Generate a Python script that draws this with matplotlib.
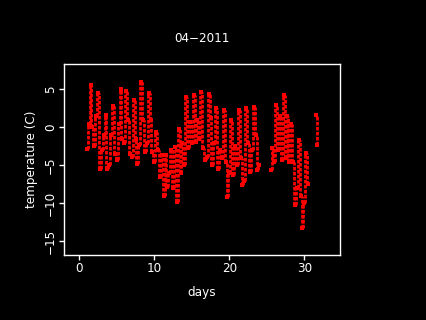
import numpy as np
import matplotlib
matplotlib.use("Agg")
import matplotlib.pyplot as plt

# temperature readings every 6 hours, starting at day 1.0 (nan = no data)
start_day = 1.0
step = 0.25
temps = [
    -2.8, 0.5, 5.6, 0.0,
    -2.5, 1.5, 4.5, -5.5,
    -3.0, -1.0, 1.6, -5.5,
    -5.0, -1.0, 2.8, -3.5,
    -4.3, 0.5, 5.0, -1.5,
    -2.0, 4.8, 1.0, -3.5,
    -3.9, 3.6, -1.5, -4.8,
    -2.3, 5.9, 1.0, -3.3,
    -2.0, 4.5, 1.0, -3.2,
    -4.5, -0.6, -3.0, -6.5,
    -3.6, -9.0, -3.6, -7.8,
    -6.0, -3.0, -8.0, -2.6,
    -9.8, -0.2, -6.0, -2.0,
    -5.0, 4.0, -2.7, 0.7,
    -2.0, 4.2, -1.9, 1.0,
    -1.5, 4.6, -2.7, -4.3,
    -3.9, 4.4, 1.2, -5.0,
    -2.0, 2.6, -5.5, -3.0,
    -4.0, 2.3, -4.6, -9.2,
    -6.0, 1.0, -6.3, -2.5,
    -5.0, 2.3, -4.0, -7.6,
    -7.0, 2.5, -2.0, -5.9,
    -3.0, 2.7, -1.0, -5.6,
    -5.0, np.nan, np.nan, np.nan,
    np.nan, np.nan, -5.6, -2.7,
    -4.6, 3.0, -3.0, 1.5,
    -4.3, 4.2, -4.0, 1.5,
    -4.6, 0.5, -4.5, -10.2,
    -8.0, -1.7, -9.0, -13.2,
    -10.0, -3.4, -7.5, np.nan,
    np.nan, np.nan, 1.6, -2.3,
]
days = start_day + step * np.arange(len(temps))

fg = 'white'
fs = 8.64

fig = plt.figure(figsize=(4.26, 3.2), dpi=100, facecolor='black')
ax = fig.add_axes([0.1502, 0.203, 0.648, 0.597], facecolor='black')

# between two readings the dense record sweeps vertically -> streak of points
t = np.array(temps)
mid = (days[:-1] + days[1:]) / 2
lo = np.fmin(t[:-1], t[1:])
hi = np.fmax(t[:-1], t[1:])
ok = ~(np.isnan(t[:-1]) | np.isnan(t[1:]))
ax.vlines(mid[ok], lo[ok], hi[ok], color='red', lw=2.0,
          linestyles=[(0, (1.3, 0.5))])
ax.plot(days, temps, color='red', ls='none', marker='s', ms=2.2, mew=0)

ax.set_xlim(-2.04, 34.76)
ax.set_ylim(-16.8, 8.33)
ax.set_xticks([0, 10, 20, 30])
ax.set_yticks([-15, -10, -5, 0, 5])

for s in ax.spines.values():
    s.set_color(fg)
    s.set_linewidth(1)
ax.tick_params(colors=fg, length=3.6, width=1, labelsize=fs, pad=1.5)
for lbl in ax.get_yticklabels():
    lbl.set_rotation(90)
    lbl.set_va('center')

ax.set_xlabel('days', color=fg, fontsize=fs, labelpad=8)
ax.set_ylabel('temperature (C)', color=fg, fontsize=fs, labelpad=4)
ax.set_title('04\u22122011', color=fg, fontsize=fs, pad=16)

fig.savefig('out.png', dpi=100, facecolor='black')
